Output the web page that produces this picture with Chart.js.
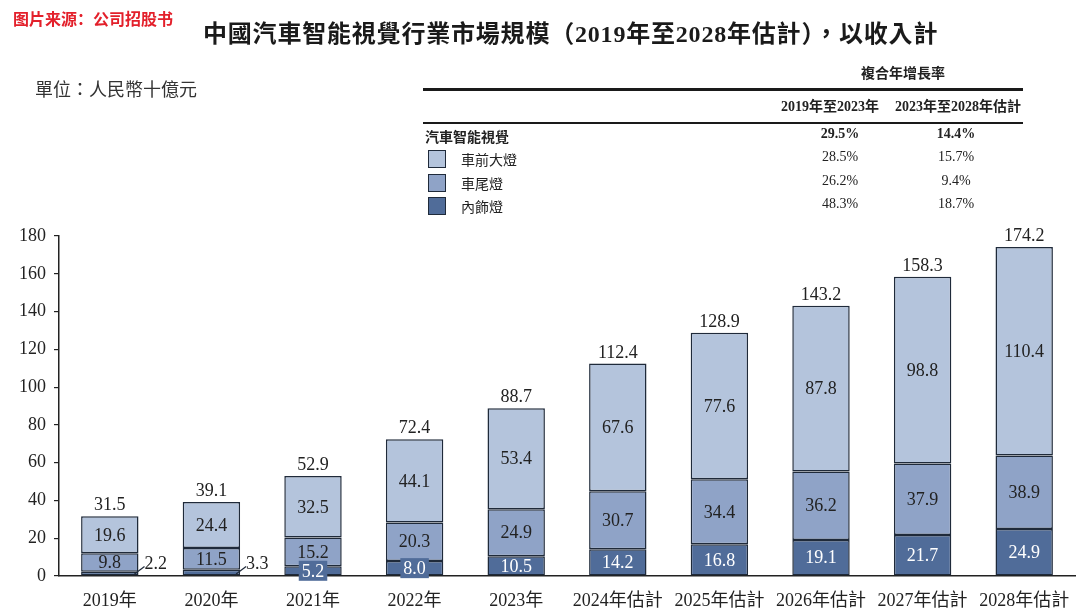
<!DOCTYPE html>
<html>
<head>
<meta charset="utf-8">
<script src="https://cdn.jsdelivr.net/npm/chart.js@4.4.1/dist/chart.umd.min.js"></script>
<style>
  html,body{margin:0;padding:0;background:#fff;}
  #wrap{position:relative;width:1080px;height:610px;overflow:hidden;font-family:"Liberation Serif","Noto Sans CJK TC",serif;color:#222;}
  #c{position:absolute;left:0;top:0;}
  .abs{position:absolute;white-space:nowrap;}
  #src{left:13px;top:6px;font-family:"Noto Sans CJK SC",sans-serif;font-weight:bold;font-size:16px;color:#e3202b;}
  #title{left:203px;top:14px;font-size:24px;font-weight:bold;color:#1a1a1a;letter-spacing:0.8px;}
  #unit{left:35px;top:75px;font-size:18px;color:#333;}
  .line{position:absolute;left:423px;width:600px;background:#1a1a1a;}
  .tb{font-size:14px;}
  .b{font-weight:bold;}
  .sw{position:absolute;left:428px;width:16px;height:16px;border:1.5px solid #1f2a3a;}
  .ctr{transform:translateX(-50%);}
</style>
</head>
<body>
<div id="wrap">
  <canvas id="c" width="1080" height="610"></canvas>
  <div id="src" class="abs">图片来源：公司招股书</div>
  <div id="title" class="abs">中國汽車智能視覺行業市場規模（2019年至2028年估計），以收入計</div>
  <div id="unit" class="abs">單位：人民幣十億元</div>
  <div id="table"></div>
</div>
<script>
// ---- data ----
const categories = ["2019年","2020年","2021年","2022年","2023年","2024年估計","2025年估計","2026年估計","2027年估計","2028年估計"];
const headlight = [19.6, 24.4, 32.5, 44.1, 53.4, 67.6, 77.6, 87.8, 98.8, 110.4];
const taillight = [9.8, 11.5, 15.2, 20.3, 24.9, 30.7, 34.4, 36.2, 37.9, 38.9];
const interior  = [2.2, 3.3, 5.2, 8.0, 10.5, 14.2, 16.8, 19.1, 21.7, 24.9];
const totals    = [31.5, 39.1, 52.9, 72.4, 88.7, 112.4, 128.9, 143.2, 158.3, 174.2];
const seriesNames = ["車前大燈","車尾燈","內飾燈"];
const cagrHeaders = ["2019年至2023年","2023年至2028年估計"];
const cagrTotal = ["29.5%","14.4%"];
const cagrRows = [["28.5%","15.7%"],["26.2%","9.4%"],["48.3%","18.7%"]];
const yTicks = [0,20,40,60,80,100,120,140,160,180];

const colors = ["#b4c4dc","#8fa3c7","#506c99"];
const edge = "#1f2a3a";
const FONT = '"Liberation Serif","Noto Sans CJK TC",serif';

// ---- CAGR table (HTML) ----
(function(){
  const t = document.getElementById('table');
  let h = '';
  h += '<div class="abs tb b ctr" style="left:903px;top:62px;">複合年增長率</div>';
  h += '<div class="line" style="top:88px;height:2.5px;"></div>';
  h += '<div class="abs tb b ctr" style="left:830px;top:95px;">'+cagrHeaders[0]+'</div>';
  h += '<div class="abs tb b ctr" style="left:958px;top:95px;">'+cagrHeaders[1]+'</div>';
  h += '<div class="line" style="top:122px;height:2px;"></div>';
  h += '<div class="abs tb b" style="left:425px;top:126px;">汽車智能視覺</div>';
  h += '<div class="abs tb b ctr" style="left:840px;top:126px;">'+cagrTotal[0]+'</div>';
  h += '<div class="abs tb b ctr" style="left:956px;top:126px;">'+cagrTotal[1]+'</div>';
  for(let i=0;i<3;i++){
    const y = 149 + i*23.5;
    h += '<div class="sw" style="top:'+(y+1)+'px;background:'+colors[i]+';"></div>';
    h += '<div class="abs tb" style="left:461px;top:'+y+'px;">'+seriesNames[i]+'</div>';
    h += '<div class="abs tb ctr" style="left:840px;top:'+y+'px;">'+cagrRows[i][0]+'</div>';
    h += '<div class="abs tb ctr" style="left:956px;top:'+y+'px;">'+cagrRows[i][1]+'</div>';
  }
  t.innerHTML = h;
})();

// ---- label plugin ----
const labelPlugin = {
  id:'barLabels',
  afterDatasetsDraw(chart){
    const ctx = chart.ctx;
    ctx.save();
    ctx.font = '18px ' + FONT;
    ctx.textAlign = 'center';
    ctx.textBaseline = 'middle';
    const metas = [0,1,2].map(i=>chart.getDatasetMeta(i));
    metas.forEach((meta, di)=>{
      const ds = chart.data.datasets[di];
      meta.data.forEach((bar, j)=>{
        const p = bar.getProps(['x','y','base','width'], true);
        const v = ds.data[j];
        const cy = (p.y + p.base)/2;
        const txt = v.toFixed(1);
        if (ds.key === 'interior'){
          if (v < 4){
            const right = p.x + p.width/2;
            ctx.strokeStyle = edge; ctx.lineWidth = 1.2;
            ctx.beginPath();
            ctx.moveTo(right-4, p.base-1.5);
            ctx.lineTo(right+6, p.base-9);
            ctx.stroke();
            ctx.fillStyle = '#222';
            ctx.textAlign = 'left';
            ctx.fillText(txt, right+6, p.base-11);
            ctx.textAlign = 'center';
          } else if (v < 9){
            const w = ctx.measureText(txt).width + 6;
            ctx.fillStyle = colors[2];
            ctx.fillRect(p.x - w/2, cy - 10, w, 20);
            ctx.fillStyle = '#fff';
            ctx.fillText(txt, p.x, cy+1);
          } else {
            ctx.fillStyle = '#fff';
            ctx.fillText(txt, p.x, cy+1);
          }
        } else {
          ctx.fillStyle = '#222';
          ctx.fillText(txt, p.x, cy+1);
        }
      });
    });
    const topMeta = metas[2];
    topMeta.data.forEach((bar,j)=>{
      const p = bar.getProps(['x','y'], true);
      ctx.fillStyle = '#222';
      ctx.textBaseline = 'alphabetic';
      ctx.fillText(totals[j].toFixed(1), p.x, p.y - 6);
    });
    ctx.restore();
  }
};

const common = {borderColor: edge, borderWidth: 1.5, borderSkipped: false, barPercentage: 0.565, categoryPercentage: 1.0};

new Chart(document.getElementById('c'), {
  type:'bar',
  data:{
    labels: categories,
    datasets:[
      Object.assign({key:'interior', label:seriesNames[2], data: interior, backgroundColor: colors[2]}, common),
      Object.assign({key:'tail', label:seriesNames[1], data: taillight, backgroundColor: colors[1]}, common),
      Object.assign({key:'head', label:seriesNames[0], data: headlight, backgroundColor: colors[0]}, common)
    ]
  },
  options:{
    responsive:false,
    animation:false,
    devicePixelRatio:1,
    layout:{padding:{top:236, right:5, left:0, bottom:0}},
    plugins:{legend:{display:false}, tooltip:{enabled:false}, title:{display:false}},
    scales:{
      x:{
        stacked:true,
        grid:{display:false},
        border:{display:true, color:'#222', width:1.5},
        ticks:{font:{family:FONT, size:18}, color:'#222', padding:6, maxRotation:0, autoSkip:false},
        afterFit(s){ s.height = 34; }
      },
      y:{
        stacked:true,
        min:0, max:180,
        afterBuildTicks(s){ s.ticks = yTicks.map(v=>({value:v})); },
        grid:{display:true, drawOnChartArea:false, drawTicks:true, tickLength:5, color:'#222', lineWidth:1.2},
        border:{display:true, color:'#222', width:1.5},
        ticks:{font:{family:FONT, size:18}, color:'#222', padding:8},
        afterFit(s){ s.width = 59; }
      }
    }
  },
  plugins:[labelPlugin]
});
</script>
</body>
</html>
